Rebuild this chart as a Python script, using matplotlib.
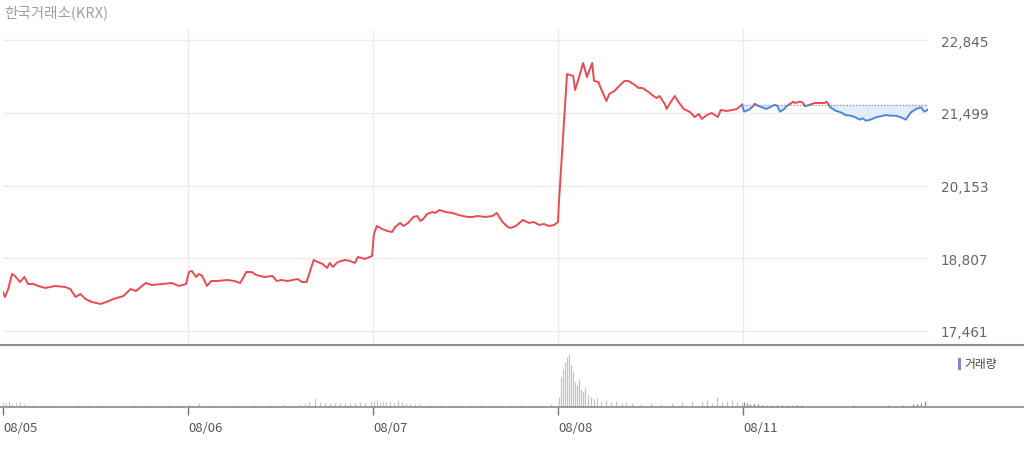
import numpy as np
import matplotlib
matplotlib.use('Agg')
import matplotlib.pyplot as plt
from matplotlib.lines import Line2D
from matplotlib.patches import Rectangle
from matplotlib.ticker import FuncFormatter

plt.rcParams['font.family'] = ['Noto Sans CJK KR', 'DejaVu Sans']

# ---------------- data ----------------
title = "한국거래소(KRX)"
volume_label = "거래량"
day_labels = ["08/05", "08/06", "08/07", "08/08", "08/11"]
session_minutes = 390
y_ticks = [17461, 18807, 20153, 21499, 22845]
prev_close = 21650  # reference (previous close) for the last day

# price: minutes since open and price, per day
d1_min = [0, 4, 11, 19, 25, 36, 45, 53, 64, 74, 89, 110, 131, 142, 153, 163, 174, 187, 206, 218,
          233, 254, 269, 280, 301, 314, 335, 356, 371, 386]
d1_px = [18183, 18090, 18238, 18516, 18479, 18368, 18460, 18331, 18331, 18294, 18257, 18294, 18275,
         18238, 18090, 18146, 18053, 17998, 17961, 17998, 18053, 18109, 18238, 18201, 18349, 18312,
         18331, 18349, 18294, 18331]

d2_min = [2, 8, 17, 23, 30, 40, 49, 61, 83, 98, 110, 123, 134, 144, 161, 178, 187, 197, 210, 231,
          240, 250, 254, 265, 273, 284, 293, 299, 305, 316, 331, 341, 352, 358, 373, 388]
d2_px = [18553, 18572, 18460, 18516, 18479, 18294, 18386, 18386, 18405, 18386, 18349, 18553, 18553,
         18497, 18460, 18479, 18386, 18405, 18386, 18423, 18368, 18368, 18479, 18775, 18738, 18701,
         18627, 18720, 18646, 18738, 18775, 18757, 18720, 18830, 18794, 18849]

d3_min = [2, 8, 19, 30, 40, 47, 57, 64, 74, 85, 93, 100, 106, 114, 125, 131, 140, 153, 167, 180,
          199, 210, 220, 237, 252, 261, 273, 284, 290, 301, 316, 329, 339, 350, 360, 371, 382, 390]
d3_px = [19256, 19404, 19349, 19312, 19293, 19386, 19460, 19404, 19460, 19571, 19589, 19497, 19534,
         19626, 19663, 19645, 19700, 19663, 19645, 19608, 19571, 19571, 19589, 19571, 19589, 19645,
         19478, 19386, 19367, 19404, 19515, 19460, 19478, 19423, 19441, 19404, 19423, 19478]

d4_min = [2, 19, 32, 36, 42, 53, 61, 72, 76, 85, 91, 102, 108, 119, 129, 140, 148, 159, 170, 178,
          191, 201, 208, 214, 225, 229, 235, 246, 254, 265, 278, 288, 297, 303, 314, 324, 337, 343,
          356, 367, 377, 388]
d4_px = [19848, 22216, 22179, 21920, 22087, 22420, 22161, 22420, 22087, 22068, 21939, 21717, 21846,
         21902, 21994, 22087, 22087, 22031, 21957, 21957, 21883, 21809, 21772, 21809, 21661, 21569,
         21661, 21809, 21698, 21569, 21513, 21421, 21476, 21384, 21458, 21495, 21421, 21550, 21532,
         21550, 21569, 21650]

d5_min = [2, 13, 19, 25, 34, 40, 49, 57, 66, 72, 78, 87, 93, 100, 106, 110, 119, 125, 131, 140,
          151, 161, 172, 176, 184, 195, 206, 216, 227, 237, 246, 252, 259, 269, 280, 290, 301, 312,
          322, 333, 343, 354, 365, 375, 382, 390]
d5_px = [21519, 21556, 21600, 21661, 21618, 21600, 21569, 21600, 21644, 21630, 21519, 21569, 21630,
         21667, 21704, 21680, 21704, 21693, 21618, 21644, 21680, 21680, 21680, 21704, 21600, 21537,
         21507, 21457, 21444, 21415, 21371, 21396, 21352, 21371, 21415, 21433, 21457, 21444, 21444,
         21415, 21371, 21507, 21569, 21600, 21519, 21556]

# volume: minutes since open and volume, per day
v1_min = [0, 6, 13, 19, 28, 36, 45, 53, 64, 85, 106, 138, 159, 180, 201, 276, 307, 350, 371]
v1_vol = [50, 40, 60, 30, 40, 50, 30, 20, 20, 20, 20, 10, 20, 20, 20, 20, 20, 20, 20]
v2_min = [2, 23, 49, 98, 140, 172, 203, 235, 246, 256, 267, 278, 288, 299, 309, 320, 331, 341, 352,
          362, 373, 386]
v2_vol = [30, 40, 20, 20, 20, 20, 30, 30, 40, 50, 90, 50, 40, 40, 40, 40, 40, 40, 40, 50, 40, 60]
v3_min = [2, 8, 15, 21, 28, 36, 45, 53, 61, 70, 78, 89, 99, 121, 142, 163, 184, 206, 227, 248, 269,
          290, 312, 333, 354, 375]
v3_vol = [60, 70, 50, 60, 50, 60, 40, 70, 50, 40, 30, 30, 30, 20, 20, 20, 20, 20, 20, 20, 20, 20,
          20, 20, 20, 30]
v4_min = [2, 6, 11, 15, 19, 23, 28, 32, 36, 40, 44, 49, 53, 57, 64, 70, 76, 83, 91, 102, 112, 123,
          134, 144, 155, 176, 197, 218, 240, 261, 282, 303, 314, 324, 335, 346, 356, 367, 377, 388]
v4_vol = [100, 300, 380, 450, 500, 530, 420, 350, 250, 220, 280, 180, 150, 200, 120, 100, 80, 90, 60,
          70, 50, 60, 40, 50, 40, 30, 40, 30, 40, 50, 60, 50, 70, 40, 100, 50, 60, 70, 50, 40]
v5_min = [2, 8, 15, 23, 32, 40, 51, 61, 72, 83, 93, 104, 114, 125, 189, 231, 273, 305, 337, 358,
          367, 376, 384, 390]
v5_vol = [50, 40, 30, 30, 30, 20, 20, 20, 20, 20, 20, 20, 20, 20, 10, 20, 10, 20, 20, 30, 30, 40,
          60, 80]

# ---------------- build series ----------------
price_days = [(d1_min, d1_px), (d2_min, d2_px), (d3_min, d3_px), (d4_min, d4_px)]
t_red = np.concatenate([i * session_minutes + np.array(m) for i, (m, p) in enumerate(price_days)])
p_red = np.concatenate([np.array(p, dtype=float) for m, p in price_days])

t5 = np.concatenate([[t_red[-1]], 4 * session_minutes + np.array(d5_min)])
p5 = np.concatenate([[p_red[-1]], np.array(d5_px, dtype=float)])
tt, pp = [t5[0]], [p5[0]]
for i in range(1, len(t5)):
    a, b = p5[i - 1] - prev_close, p5[i] - prev_close
    if a * b < 0:
        f = a / (a - b)
        tt.append(t5[i - 1] + f * (t5[i] - t5[i - 1]))
        pp.append(prev_close)
    tt.append(t5[i])
    pp.append(p5[i])
tt = np.array(tt)
pp = np.array(pp)

RED = '#ea4a50'
BLUE = '#4f86db'

# ---------------- figure ----------------
W, H = 1024, 456
fig = plt.figure(figsize=(W / 100, H / 100), dpi=100)
fig.patch.set_facecolor('white')

def fx(px):
    return px / W

def fy(py):
    return 1 - py / H

x_left, x_right = 3, 928
ax = fig.add_axes([fx(x_left), fy(346), fx(x_right - x_left), (346 - 30) / H])
axv = fig.add_axes([fx(x_left), fy(408), fx(x_right - x_left), (408 - 346) / H])

xmax = 5 * session_minutes
px_per_val = (332 - 41) / (y_ticks[-1] - y_ticks[0])
ymax = y_ticks[-1] + (41 - 30) / px_per_val
ymin = y_ticks[0] - (346 - 332) / px_per_val

# price panel
ax.set_xlim(0, xmax)
ax.set_ylim(ymin, ymax)
for s in ax.spines.values():
    s.set_visible(False)
for yv in y_ticks:
    ax.axhline(yv, color='#ececec', lw=1, zorder=0)
for d in range(1, 5):
    ax.axvline(d * session_minutes, color='#ececec', lw=1, zorder=0)

ax.plot(t_red, p_red, color=RED, lw=1.4, zorder=3, solid_joinstyle='round')
ax.fill_between(tt, pp, prev_close, where=pp <= prev_close, interpolate=True,
                color='#e3ecfa', lw=0, zorder=1)
ax.hlines(prev_close, 4 * session_minutes, xmax, colors='#8796b5', lw=0.9,
          linestyles=(0, (1, 1.5)), zorder=2)
blue_y = np.where(pp <= prev_close, pp, np.nan)
red_y = np.where(pp >= prev_close, pp, np.nan)
ax.plot(tt, blue_y, color=BLUE, lw=1.4, zorder=3)
ax.plot(tt, red_y, color=RED, lw=1.4, zorder=3)

ax.set_xticks([])
ax.yaxis.tick_right()
ax.set_yticks(y_ticks)
ax.yaxis.set_major_formatter(FuncFormatter(lambda v, _: f"{int(round(v)):,}"))
ax.tick_params(axis='y', length=0, pad=9, labelcolor='#666666')
for lab in ax.get_yticklabels():
    lab.set_ha('left')
    lab.set_family('DejaVu Sans')
    lab.set_fontsize(9.8)

# volume panel
axv.set_xlim(0, xmax)
axv.set_ylim(0, 620)
for s in axv.spines.values():
    s.set_visible(False)
vol_days = [(v1_min, v1_vol), (v2_min, v2_vol), (v3_min, v3_vol), (v4_min, v4_vol)]
for i, (m, v) in enumerate(vol_days):
    axv.vlines(i * session_minutes + np.array(m), 0, v, colors='#c4c4cc', lw=0.9)
axv.vlines(4 * session_minutes + np.array(v5_min), 0, v5_vol, colors='#8e80cc', lw=0.9)
axv.set_yticks([])
axv.set_xticks([i * session_minutes for i in range(5)])
axv.set_xticklabels(day_labels)
axv.tick_params(axis='x', direction='out', length=6, width=1, color='#777777',
                labelsize=9.5, labelcolor='#555555', pad=4)
for lab in axv.get_xticklabels():
    lab.set_ha('left')

# full-width separators
fig.add_artist(Line2D([0, 1], [fy(346), fy(346)], transform=fig.transFigure,
                      color='#8a8a8a', lw=1.5))
fig.add_artist(Line2D([0, 1], [fy(408), fy(408)], transform=fig.transFigure,
                      color='#8a8a8a', lw=1.2))

# title
fig.text(fx(4), fy(13), title, fontsize=10.5, color='#a0a0a0', va='center', ha='left')

# volume legend
fig.add_artist(Rectangle((fx(958), fy(371)), fx(3), 12 / H, transform=fig.transFigure,
                         color='#8e80cc', lw=0))
fig.text(fx(964), fy(365), volume_label, fontsize=8.5, color='#444444', va='center', ha='left')

fig.savefig('out.png', dpi=100, facecolor='white')
